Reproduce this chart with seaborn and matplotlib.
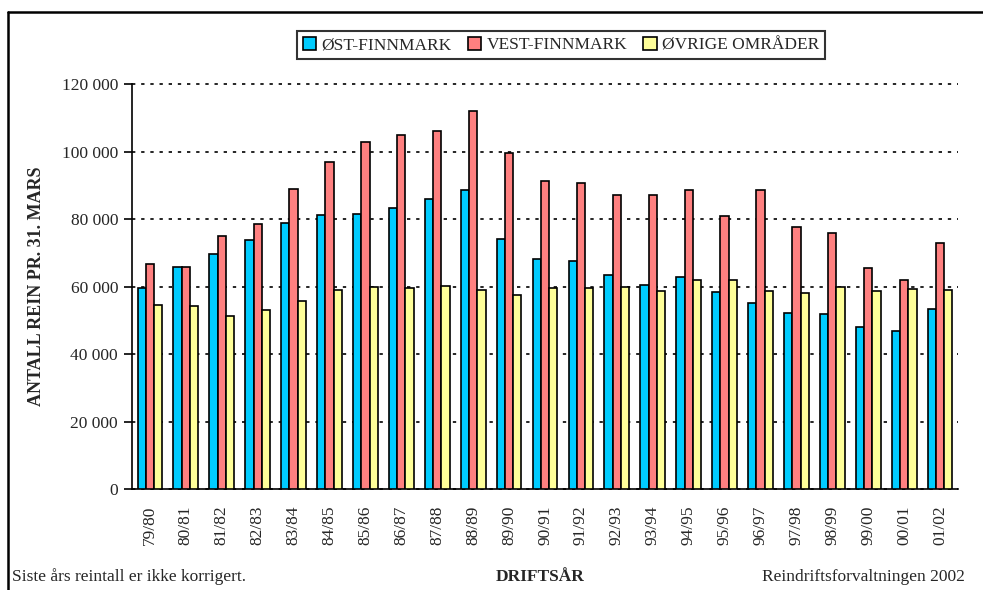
import matplotlib
matplotlib.use("Agg")
import matplotlib.pyplot as plt
from matplotlib.lines import Line2D
from matplotlib.patches import Patch
from matplotlib.ticker import FuncFormatter
import numpy as np
import pandas as pd
import seaborn as sns

# data
years = ["79/80", "80/81", "81/82", "82/83", "83/84", "84/85", "85/86", "86/87",
         "87/88", "88/89", "89/90", "90/91", "91/92", "92/93", "93/94", "94/95",
         "95/96", "96/97", "97/98", "98/99", "99/00", "00/01", "01/02"]
ost = [59500, 65700, 69700, 73800, 78800, 81200, 81500, 83400, 86000, 88600,
       74100, 68100, 67700, 63300, 60500, 62900, 58300, 55200, 52200, 51900,
       48100, 46900, 53200]
vest = [66700, 65700, 75000, 78500, 89000, 96800, 102900, 104900, 106000, 112000,
        99700, 91200, 90600, 87200, 87200, 88500, 80800, 88500, 77500, 75900,
        65500, 61800, 73000]
ovrige = [54400, 54300, 51300, 53000, 55600, 58900, 60000, 59600, 60200, 58900,
          57600, 59700, 59700, 60000, 58700, 62000, 62000, 58700, 58100, 60000,
          58700, 59300, 59000]
series = ["ØST-FINNMARK", "VEST-FINNMARK", "ØVRIGE OMRÅDER"]
colors = ["#00CCFF", "#FF8080", "#FFFF99"]

df = pd.DataFrame({
    "year": years * 3,
    "area": [series[0]] * len(years) + [series[1]] * len(years) + [series[2]] * len(years),
    "count": ost + vest + ovrige,
})

sns.set_style("white")
plt.rcParams["font.family"] = ["Liberation Serif", "DejaVu Serif"]
fs = 12.5

fig = plt.figure(figsize=(9.83, 5.90), dpi=100)
ax = fig.add_axes([132 / 983, 1 - 489 / 590, (958 - 132) / 983, (489 - 84) / 590])

sns.barplot(data=df, x="year", y="count", hue="area", hue_order=series,
            palette=colors, width=0.69, gap=0, edgecolor="black", linewidth=1.2,
            saturation=1, legend=False, ax=ax, zorder=3)

ax.set_ylim(0, 120000)
ax.set_xlim(-0.5, len(years) - 0.5)
ax.set_yticks(np.arange(0, 120001, 20000))
ax.yaxis.set_major_formatter(FuncFormatter(lambda v, p: f"{int(v):,}".replace(",", " ")))
ax.grid(axis="y", color="black", linestyle=(0, (2, 3.5)), linewidth=1.2, zorder=0)
for gl in ax.get_ygridlines():
    gl.set_clip_on(False)
ax.set_axisbelow(True)

for s in ["top", "right"]:
    ax.spines[s].set_visible(False)
for s in ["left", "bottom"]:
    ax.spines[s].set_color("black")
    ax.spines[s].set_linewidth(1.2)

ax.set_xticks(np.arange(len(years)))
ax.set_xticklabels(years, rotation=90)
ax.set_xticks(np.arange(len(years) + 1) - 0.5, minor=True)
ax.tick_params(axis="x", which="major", length=0, pad=12)
ax.tick_params(axis="x", which="minor", direction="inout", length=9, width=1.2, color="black")
ax.tick_params(axis="y", direction="out", length=6, width=1.2, color="black", left=True, pad=4)
ax.tick_params(labelsize=fs)

ax.set_xlabel("")
ax.set_ylabel("ANTALL REIN PR. 31. MARS", fontweight="bold", fontsize=13, labelpad=12)

handles = [Patch(facecolor=c, edgecolor="black", linewidth=1.2) for c in colors]
leg = fig.legend(handles, series, loc="center", bbox_to_anchor=(561 / 983, 1 - 45 / 590),
                 ncol=3, frameon=True, fancybox=False, edgecolor="black", fontsize=fs,
                 handlelength=0.8, handleheight=0.8, handletextpad=0.3, columnspacing=0.9,
                 borderpad=0.3)
leg.get_frame().set_linewidth(1.5)

fig.text(12 / 983, 1 - 577 / 590, "Siste års reintall er ikke korrigert.", fontsize=fs,
         va="center", ha="left")
fig.text(540 / 983, 1 - 577 / 590, "DRIFTSÅR", fontsize=fs, fontweight="bold",
         va="center", ha="center")
fig.text(965 / 983, 1 - 577 / 590, "Reindriftsforvaltningen 2002", fontsize=fs,
         va="center", ha="right")

# outer chart border (left and top edges visible)
fig.add_artist(Line2D([8 / 983, 8 / 983], [0, 1 - 12 / 590], color="black", linewidth=1.8))
fig.add_artist(Line2D([8 / 983, 1], [1 - 12 / 590, 1 - 12 / 590], color="black", linewidth=1.8))

fig.savefig("out.png", dpi=100)
